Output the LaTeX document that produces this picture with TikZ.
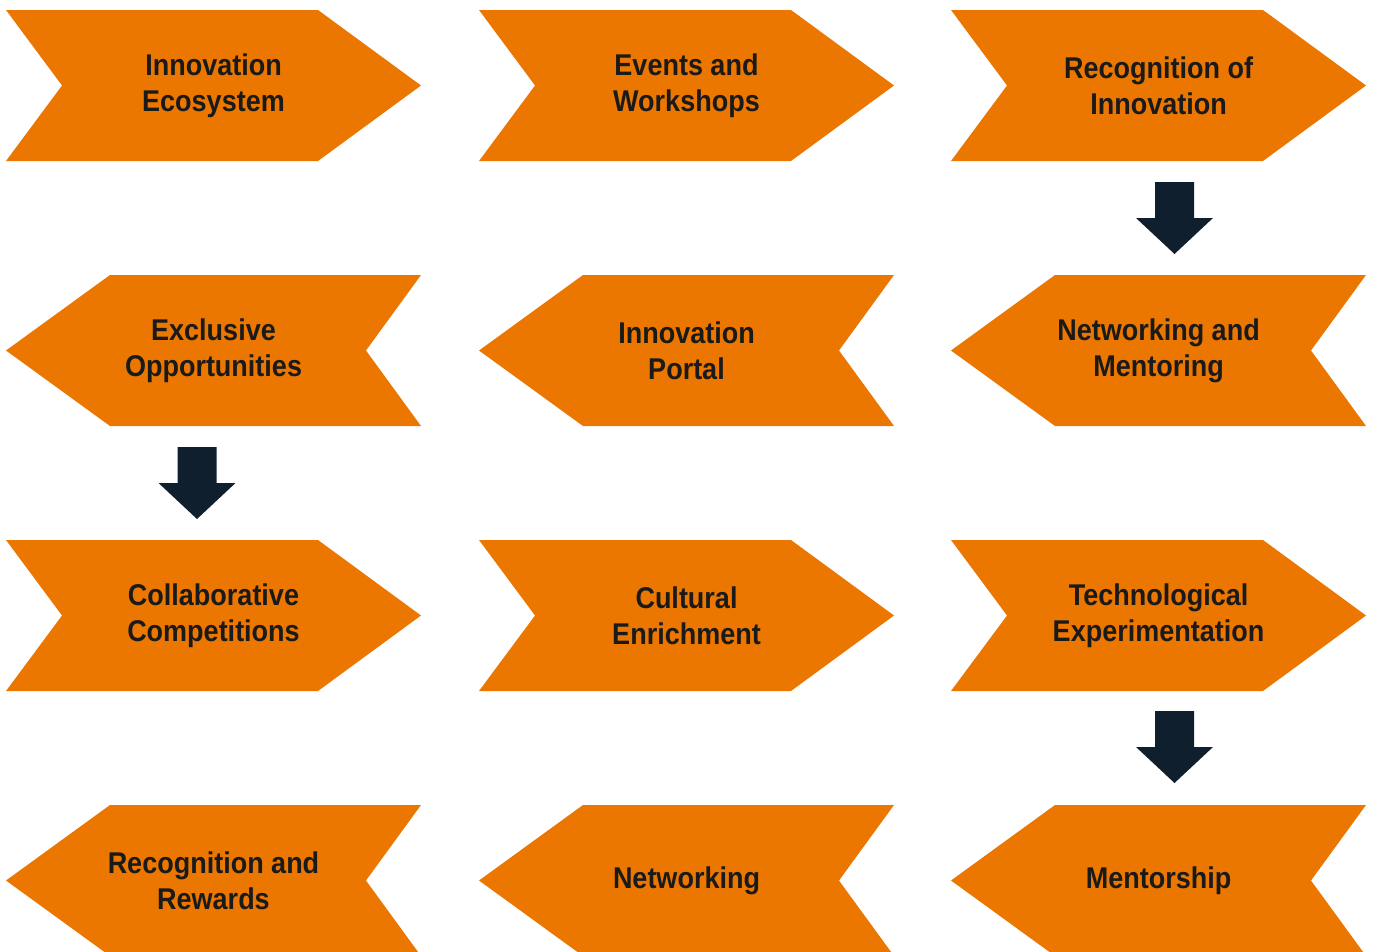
\documentclass[tikz,border=0pt]{standalone}
\usepackage{fontspec}
\setmainfont[FakeStretch=0.9]{Liberation Sans}
\definecolor{chev}{HTML}{EC7700}
\definecolor{txt}{HTML}{1A1A1A}
\definecolor{arr}{HTML}{0F1F2D}
\tikzset{
  lbl/.style={text=txt, font=\fontsize{30}{36}\selectfont\bfseries, align=center, inner sep=0pt},
  chevfill/.style={fill=chev},
  arrfill/.style={fill=arr}
}
\newcommand{\chevR}[4]{% x0,y0,name,text
  \fill[chevfill] (#1,#2) -- ++(312,0) -- ++(103,75.5) -- ++(-103,75.5) -- ++(-312,0) -- ++(56,-75.5) -- cycle;
  \node[lbl] (#3) at (#1+207.5,#2+75.5) {#4};
}
\newcommand{\chevL}[4]{% x0,y0,name,text
  \fill[chevfill] (#1,#2+75.5) -- ++(104,-75.5) -- ++(311,0) -- ++(-55,75.5) -- ++(55,75.5) -- ++(-311,0) -- cycle;
  \node[lbl] (#3) at (#1+207.5,#2+75.5) {#4};
}
\newcommand{\blockdown}[3]{% cx, ytop, name
  \coordinate (#3) at (#1,#2);
  \fill[arrfill] (#3) ++(-19.5,0) -- ++(39,0) -- ++(0,36) -- ++(19,0) -- ++(-38.5,36) -- ++(-38.5,-36) -- ++(19,0) -- cycle;
}
\begin{document}
\begin{tikzpicture}[x=1pt,y=-1pt]
\useasboundingbox (0,0) rectangle (1373,951);
\chevR{6}{10}{a1}{Innovation\\Ecosystem}
\chevR{479}{10}{a2}{Events and\\Workshops}
\chevR{951}{10}{a3}{Recognition of\\Innovation}
\chevL{6}{275}{b1}{Exclusive\\Opportunities}
\chevL{479}{275}{b2}{Innovation\\Portal}
\chevL{951}{275}{b3}{Networking and\\Mentoring}
\chevR{6}{540}{c1}{Collaborative\\Competitions}
\chevR{479}{540}{c2}{Cultural\\Enrichment}
\chevR{951}{540}{c3}{Technological\\Experimentation}
\chevL{6}{805}{d1}{Recognition and\\Rewards}
\chevL{479}{805}{d2}{Networking}
\chevL{951}{805}{d3}{Mentorship}
\blockdown{1174.5}{182}{ar1}
\blockdown{197}{447}{ar2}
\blockdown{1174.5}{711}{ar3}
\end{tikzpicture}
\end{document}
